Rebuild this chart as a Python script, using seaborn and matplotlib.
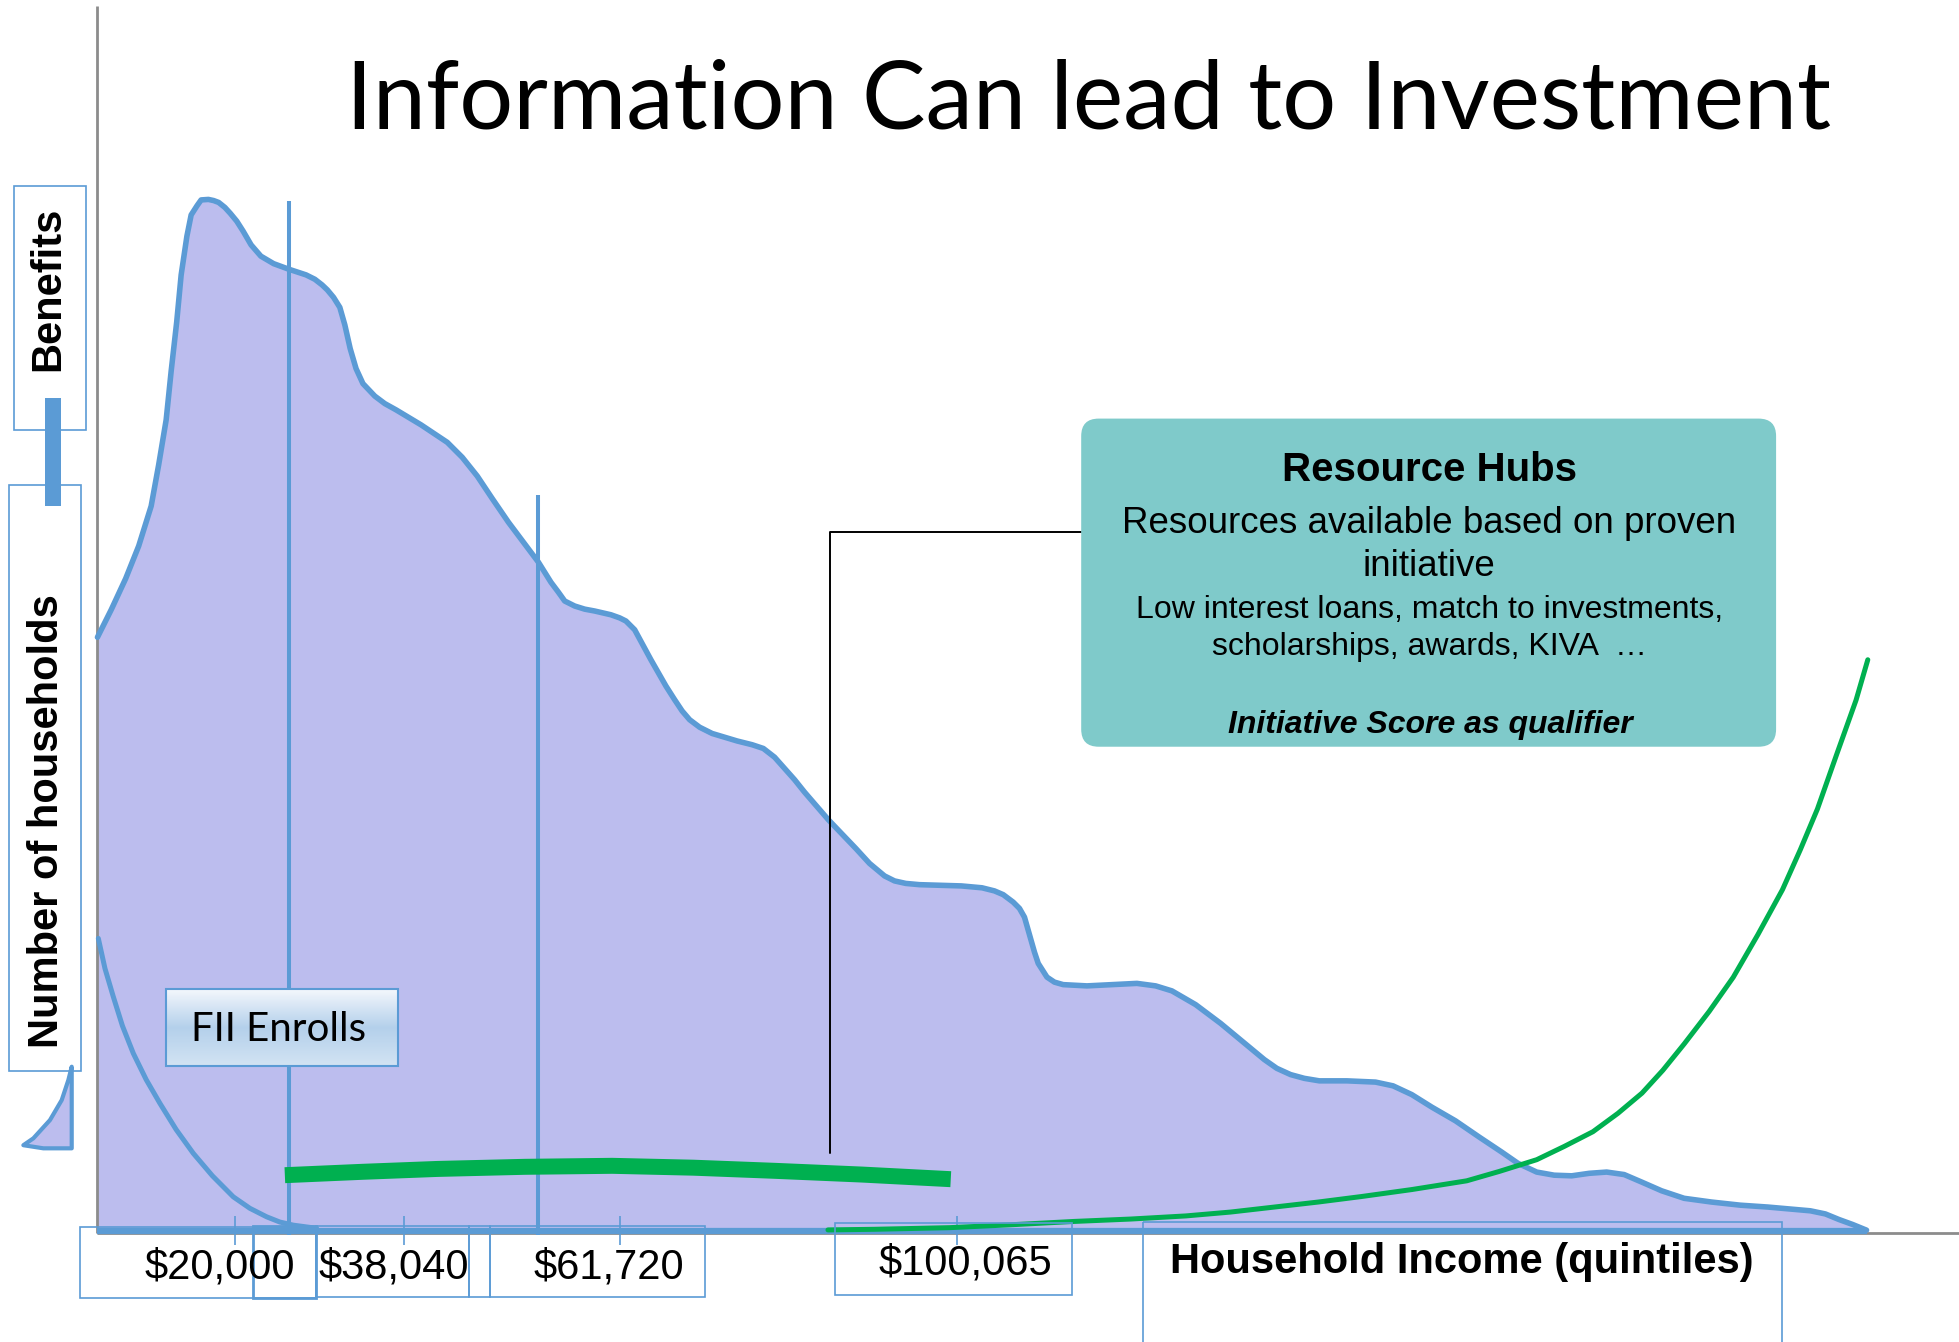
import numpy as np
import matplotlib
matplotlib.use("Agg")
import matplotlib.pyplot as plt
from matplotlib.patches import Rectangle, FancyBboxPatch, Polygon
import seaborn as sns

# --- DATA (positions, in slide pixels, y down) ---
density_x = [78, 89, 100.6, 111, 121, 127, 133, 137, 141.4, 145, 149.6, 153, 157.8, 161,
             166.8, 171, 175, 180, 184.3, 189.5, 194.6, 201, 208.8, 219, 231.3, 245, 252,
             257.8, 262, 267, 272, 276, 280.3, 285, 290.5, 300, 308, 317, 337, 358, 370,
             382, 394, 407, 419, 431, 441, 447, 452, 460, 468, 476, 489, 496, 501, 508,
             514, 521, 533, 540, 546, 552, 560, 570, 590, 602, 611, 620, 628, 636, 644,
             663, 685, 696, 708, 716, 725, 736, 752, 769.5, 786, 796, 803, 811, 816, 820,
             824, 828, 831, 838, 844, 851, 870, 890, 910, 925, 938, 957, 977, 1000, 1012,
             1022, 1033, 1044, 1056, 1078, 1101, 1115, 1130, 1146, 1165, 1184, 1202, 1215,
             1230, 1244, 1258, 1272, 1286, 1300, 1314, 1330, 1348, 1370, 1393, 1415, 1432,
             1449, 1461, 1472, 1483, 1494]
density_y = [510, 488, 463, 437, 405, 372, 336, 297, 258, 220, 189, 172, 164.5, 160,
             159.6, 160.5, 162, 166, 170.7, 177, 185, 196, 205, 211, 215.5, 220, 223.5,
             228, 232, 238, 246, 260, 279, 295, 307, 317, 323, 328, 340, 354, 366,
             381, 399, 418, 434, 450, 466, 474, 481, 485, 487.5, 489, 492, 494.5, 497, 504,
             515, 528, 549, 560, 569, 576, 582, 587, 593, 596, 599, 606, 615, 624, 634,
             656, 679, 691, 701, 705, 707, 708, 708.5, 709, 710.5, 713, 716, 722, 727, 734,
             748, 762, 771, 782, 786, 788, 789, 788, 787, 789, 793, 804, 819, 838, 848,
             855, 860, 863, 865, 865, 866, 869, 876, 886, 897, 910, 922, 931,
             938, 940.5, 941, 939, 938, 940, 946, 953, 959, 962, 964.5, 966, 967.5,
             969, 971.5, 976, 980, 984.5]
baseline_y = 985

# falling benefits curve at the left
benefit_x = [78.7, 84, 90.7, 98, 106.7, 117, 128, 141, 154.7, 170, 186.7, 200, 213.4,
             224, 234.8, 253.4]
benefit_y = [751, 775, 797.7, 821, 843, 864, 883, 904, 923, 941, 957.8, 967, 973.8,
             978, 980.5, 983]

# rising investment curve (green, thin)
invest_x = [662.7, 700, 760, 808.8, 860, 905, 949.2, 985, 1020, 1055, 1089.6, 1130, 1174,
            1200, 1230, 1252, 1275, 1295, 1314.3, 1331, 1348, 1368, 1387.3, 1407, 1426.7,
            1441, 1454.7, 1470, 1485.6, 1495]
invest_y = [984.3, 983.8, 982.5, 980.2, 977.5, 975.6, 973.1, 970, 966, 962, 957.6, 952, 945,
            937.5, 928.1, 917.5, 905.7, 891, 874.8, 856.5, 835.5, 809.5, 782.1, 748, 712,
            680, 647.4, 604, 560.3, 528]

# FII enrollment band (green, thick)
enroll_x = [228, 290, 350, 420, 490, 555, 620, 690, 761]
enroll_y = [940.5, 937.8, 935.5, 933.8, 933, 934.5, 937, 940, 943.7]

# quintile markers
marker_x = [231.3, 431]
marker_top = [161, 396.5]

tick_x = [188, 323, 496, 766]
tick_labels = ["$20,000", "$38,040", "$61,720", "$100,065"]
tick_label_x = [176, 315, 487, 773]
tick_label_y = [1014, 1014, 1014, 1011.5]

# little legend glyph under the y label
glyph_x = [57.4, 54.7, 49.4, 40, 26.7, 18.7, 34.7, 57.4]
glyph_y = [853.7, 864.4, 880.4, 896.4, 911, 916.5, 919, 919]

BLUE = "#5B9BD5"
LAV = "#BCBDEE"
GREEN = "#00B050"
TEAL = "#7FCACA"
GRAY = "#8C8C8C"

sns.set_theme(style="white")
plt.rcParams['font.family'] = ['Liberation Sans', 'DejaVu Sans']
plt.rcParams['text.color'] = 'black'

fig = plt.figure(figsize=(19.59, 13.42), dpi=100)
ax = fig.add_axes([0, 0, 1, 1])

# density of households
ax.fill_between(density_x, density_y, baseline_y, color=LAV, lw=0, zorder=1)
sns.lineplot(x=density_x, y=density_y, sort=False, estimator=None, color=BLUE,
             lw=4, ax=ax, zorder=3)
ax.hlines(baseline_y, density_x[0], density_x[-1], color=BLUE, lw=4.5, zorder=3)

# axes lines
ax.vlines(77.4, 5, 987, color=GRAY, lw=2, zorder=2)
ax.hlines(987, 77.4, 1568, color=GRAY, lw=2, zorder=2)

# quintile markers and ticks
ax.vlines(marker_x, marker_top, 988, color=BLUE, lw=2.9, zorder=4)
ax.vlines(tick_x, 973, 996, color=BLUE, lw=1.2, zorder=4)

sns.lineplot(x=benefit_x, y=benefit_y, sort=False, estimator=None, color=BLUE,
             lw=3.6, ax=ax, zorder=4)
sns.lineplot(x=invest_x, y=invest_y, sort=False, estimator=None, color=GREEN,
             lw=3.6, ax=ax, zorder=5)
sns.lineplot(x=enroll_x, y=enroll_y, sort=False, estimator=None, color=GREEN,
             lw=11.5, ax=ax, zorder=5)
ax.lines[-1].set_solid_capstyle("butt")
for ln in ax.lines:
    ln.set_solid_joinstyle("round")

# connector from the Resource Hubs box
ax.plot([865, 664.2, 664.2], [425.8, 425.8, 922.5], color="black", lw=1.4, zorder=5)

# tick label boxes
boxes = [(64, 982, 189, 57), (202.6, 981, 50.4, 58), (253, 981, 122, 57),
         (375, 981, 17, 57), (392, 981, 172, 57), (668.6, 979, 189.4, 57),
         (915, 978, 511, 120)]
for i, (bx, by, bw, bh) in enumerate(boxes):
    ax.add_patch(Rectangle((bx, by), bw, bh, fill=False, ec=BLUE,
                           lw=2.0 if i == 1 else 1.2, zorder=6))
for lx, ly, lab in zip(tick_label_x, tick_label_y, tick_labels):
    ax.text(lx, ly, lab, ha="center", va="center", fontsize=30, zorder=7)
ax.text(1170, 1010, "Household Income (quintiles)", ha="center", va="center",
        fontsize=30, fontweight="bold", zorder=7)

# y label boxes
ax.add_patch(Rectangle((11, 148.5), 58, 196, fill=False, ec=BLUE, lw=1.2, zorder=6))
ax.add_patch(Rectangle((7, 388), 57.5, 469, fill=False, ec=BLUE, lw=1.2, zorder=6))
ax.add_patch(Rectangle((36, 318.5), 12.5, 86.5, fc=BLUE, ec="none", zorder=6))
ax.text(39, 231, "Benefits", rotation=90, ha="center", va="center",
        fontsize=30, fontweight="bold", zorder=7)
ax.text(37.5, 657, "Number of households", rotation=90, ha="center", va="center",
        fontsize=30, fontweight="bold", zorder=7)
ax.add_patch(Polygon(list(zip(glyph_x, glyph_y)), closed=True, fc=LAV, ec=BLUE,
                     lw=3, joinstyle="round", zorder=6))

# FII Enrolls box with a soft gradient
grad = np.linspace(0, 1, 64).reshape(-1, 1)
cmap = matplotlib.colors.LinearSegmentedColormap.from_list("fii", ["#F3F7FC", "#B4D0EB", "#D2E3F3"])
ax.imshow(grad, extent=(133, 318.8, 853.2, 791.6), cmap=cmap, aspect="auto", zorder=6)
ax.add_patch(Rectangle((133, 791.6), 185.8, 61.6, fill=False, ec=BLUE, lw=1.5, zorder=7))
ax.text(223.3, 824, "FII Enrolls", ha="center", va="center", fontsize=29,
        family=["Lato", "DejaVu Sans"], zorder=8)

# Resource Hubs box
ax.add_patch(FancyBboxPatch((865.4, 335), 556.2, 262.6,
                            boxstyle="round,pad=0,rounding_size=14",
                            fc=TEAL, ec="none", zorder=6))
ax.text(1144, 376, "Resource Hubs", ha="center", va="center", fontsize=29,
        fontweight="bold", zorder=7)
ax.text(1144, 419, "Resources available based on proven", ha="center", va="center",
        fontsize=26.5, zorder=7)
ax.text(1144, 453.5, "initiative", ha="center", va="center", fontsize=26.5, zorder=7)
ax.text(1144, 488.5, "Low interest loans, match to investments,", ha="center", va="center",
        fontsize=23, zorder=7)
ax.text(1144, 518, "scholarships, awards, KIVA  \u2026", ha="center", va="center",
        fontsize=23, zorder=7)
ax.text(1145, 580, "Initiative Score as qualifier", ha="center", va="center",
        fontsize=23, fontweight="bold", style="italic", zorder=7)

# title
ax.text(871.5, 103, "Information Can lead to Investment", ha="center", va="baseline",
        fontsize=68.6, family=["Lato", "DejaVu Sans"], zorder=7)

ax.set_xlim(0, 1568)
ax.set_ylim(1074, 0)
ax.axis("off")

fig.savefig("out.png", dpi=100)
